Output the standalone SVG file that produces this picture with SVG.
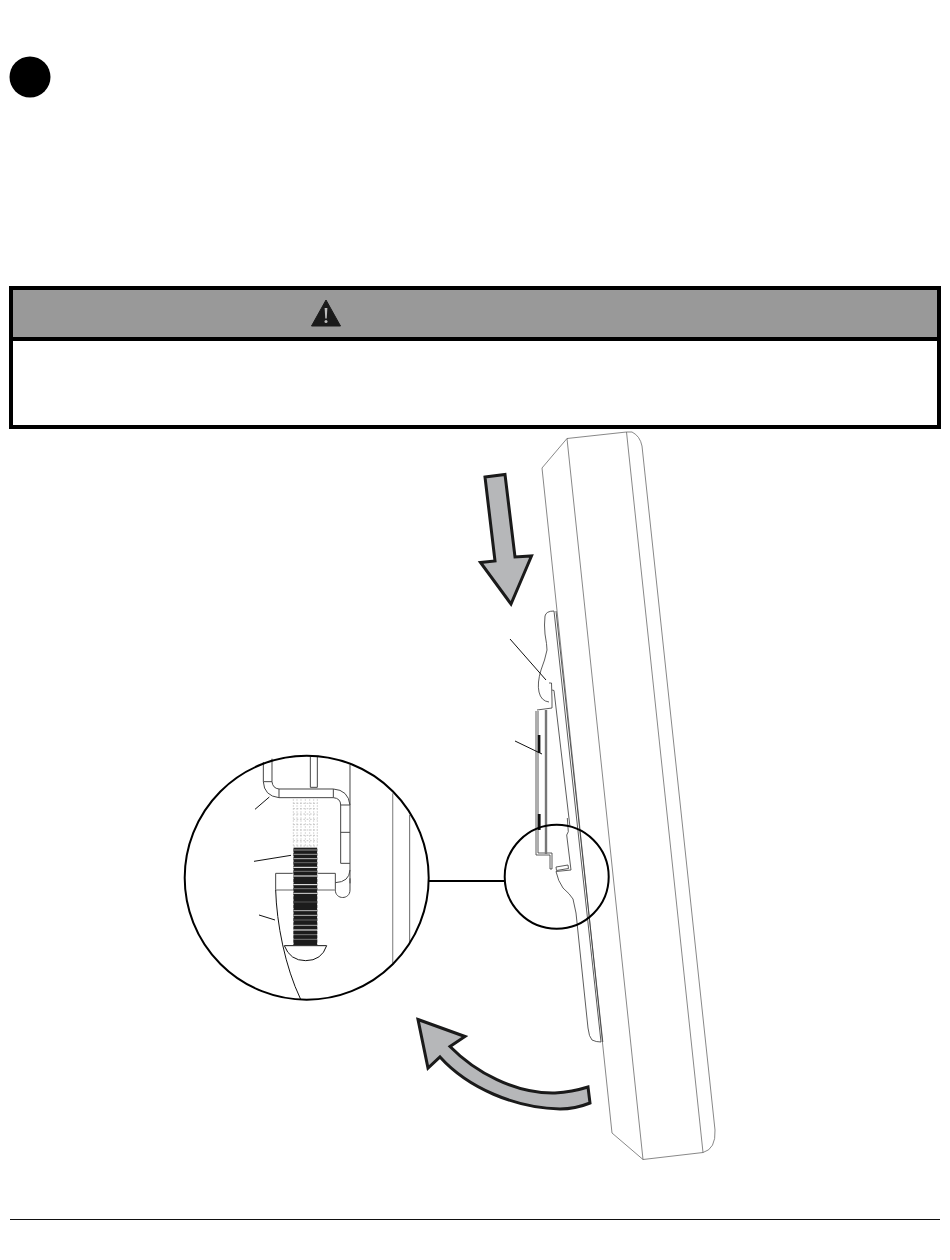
<svg xmlns="http://www.w3.org/2000/svg" width="950" height="1260" viewBox="0 0 950 1260">
<style>
.ln{fill:none;stroke:#555;stroke-width:.7}
.pl{fill:none;stroke:#333;stroke-width:.8}
.arrow{fill:#b6b7b9;stroke:#1a1a1a;stroke-width:3;stroke-linejoin:miter}
.ring{fill:none;stroke:#000;stroke-width:2}
.leader{fill:none;stroke:#111;stroke-width:1}
.zl{fill:none;stroke:#444;stroke-width:3}
.zk{fill:none;stroke:#111;stroke-width:3}
</style>
<rect width="950" height="1260" fill="#fff"/>
<g id="step-badge"><circle cx="30" cy="77" r="20.500" fill="#000"/></g>
<g id="warning-box">
<rect x="11" y="288" width="928" height="51" fill="#999"/>
<rect x="11" y="288" width="928" height="139" fill="none" stroke="#000" stroke-width="4"/>
<line x1="11" y1="339" x2="939" y2="339" stroke="#000" stroke-width="4"/>
<path d="M326 300L340.500 326H311.500Z" fill="#1a1a1a" stroke="#1a1a1a" stroke-linejoin="round"/>
<path d="M324.600 308H327.400L326.700 318.500H325.300Z" fill="#bbb"/>
<circle cx="326" cy="321.500" r="1.500" fill="#bbb"/>
</g>
<g id="display">
<path class="ln" d="M567 438.500L626.500 432H632Q640 436 642 446L715 1130Q716 1149 703 1152.500L643 1159.500L612 1133L542 468Z"/>
<path class="ln" d="M567 438.500L643 1159.500M626.500 432L703 1152.500"/>
</g>
<g id="mount-plate">
<path class="pl" d="M554 611L601 1042M556 611L602.800 1042"/>
<path class="pl" d="M554 611Q546 611 545 616Q544 625 545 634Q547 645 547 650Q545 660 541 670Q537 683 539 692Q541 701 549 702"/>
<path class="pl" d="M549 683H551.500L552 700V708L537 710M552 690L554 690.500L570 827"/>
<path class="pl" d="M567.300 818L568.300 831.700L566.700 835L571 870L556 871.500Q558 881 563 888Q570 894 573 899L576 913L588 1028Q589 1037 592 1040Q596 1042 601 1042"/>
<path class="pl" d="M556 867L568 865L568.500 868.500L556.500 870.500Z"/>
</g>
<g id="wall-plate">
<path class="pl" d="M536 711V855H550V858M538 711V853H552V869H550V858"/>
<line x1="546" y1="710" x2="546" y2="854" stroke="#777" stroke-width="2.400"/>
<rect x="537.800" y="735" width="2.600" height="18" fill="#111"/>
<rect x="537.800" y="814" width="2.800" height="16" fill="#111"/>
</g>
<g id="down-arrow"><path class="arrow" d="M485 477L505 474.500L515 557L531.500 556L511 604L480.500 562.500L495 561Z"/></g>
<g id="curved-arrow"><path class="arrow" d="M418 1019.500L465 1036.500L450 1046.500C475 1072 515 1094 555 1093Q572 1092 588 1087L590 1103Q575 1109 560 1109C515 1108 468 1088 440 1057L428 1068Z"/></g>
<g id="leaders">
<path class="leader" d="M510 639L546 680M515 741L542 754"/>
</g>
<g id="connectors">
<line x1="429" y1="881" x2="505" y2="881" stroke="#000" stroke-width="2"/>
</g>
<g id="small-circle"><circle class="ring" cx="556.700" cy="876.700" r="52"/></g>
<g id="detail-view">
<g transform="translate(180 750) scale(.33333)">
<path class="zl" d="M250 36V95Q252 138 297 143M276 26V95Q278 115 297 117M250 95H276"/>
<path class="zl" d="M297 117H460V143H297ZM460 117Q505 120 510 165M460 143Q482 145 482 165V340H510M482 165H510M482 247H510"/>
<path class="zl" d="M510 45V400M391 20V112H412V20"/>
<path class="zl" d="M287 420V370H466V420M466 398Q508 396 510 360M510 385V420C510 450 466 450 466 420"/>
<line x1="287" y1="420" x2="466" y2="420" stroke="#999" stroke-width="4"/>
<path class="zk" d="M287 420C290 520 315 650 362 748" stroke-width="2.500"/>
<path d="M340 148V292M351 148V292M363 148V292M376 148V292M389 148V292M401 148V292M412 148V292" fill="none" stroke="#aaa" stroke-width="2" stroke-dasharray="4 5"/>
<path d="M340 160H412M340 176H412M340 192H412M340 208H412M340 224H412M340 240H412M340 256H412M340 272H412M340 288H412" fill="none" stroke="#aaa" stroke-width="2" stroke-dasharray="5 5"/>
<rect x="340" y="293" width="72" height="292" fill="#1c1c1c"/>
<g fill="none" stroke-width="3">
<path stroke="#999" d="M340 300H412M340 313H412"/>
<path stroke="#bbb" d="M340 326H412"/>
<path stroke="#666" d="M340 338H412"/>
<path stroke="#fff" d="M340 352H412M340 378H412M340 404H412"/>
<path stroke="#777" d="M340 364H412M340 416H412"/>
<path stroke="#ddd" d="M340 430H412"/>
<path stroke="#555" d="M340 456H412"/>
<path stroke="#bbb" d="M340 482H412M340 496H412"/>
<path stroke="#666" d="M340 510H412"/>
<path stroke="#aaa" d="M340 526H412"/>
<path stroke="#fff" d="M340 540H412"/>
<path stroke="#777" d="M340 554H412M340 568H412"/>
</g>
<path d="M339 292V585M413 292V585" fill="none" stroke="#fff" stroke-width="2.500" stroke-dasharray="4 9"/>
<path d="M313 587H440Q425 632 377 632Q330 632 313 587Z" fill="#fff" stroke="#111" stroke-width="3"/>
<line x1="638" y1="130" x2="638" y2="640" stroke="#999" stroke-width="4"/>
<line x1="689" y1="195" x2="689" y2="580" stroke="#666" stroke-width="3"/>
<path class="zk" d="M225 178L268 141M222 334L333 316M237 495L285 510"/>
</g>
<circle class="ring" cx="306.700" cy="877.700" r="122"/>
</g>
<g id="footer-rule"><line x1="10" y1="1219.500" x2="940" y2="1219.500" stroke="#111" stroke-width="1"/></g>
</svg>
